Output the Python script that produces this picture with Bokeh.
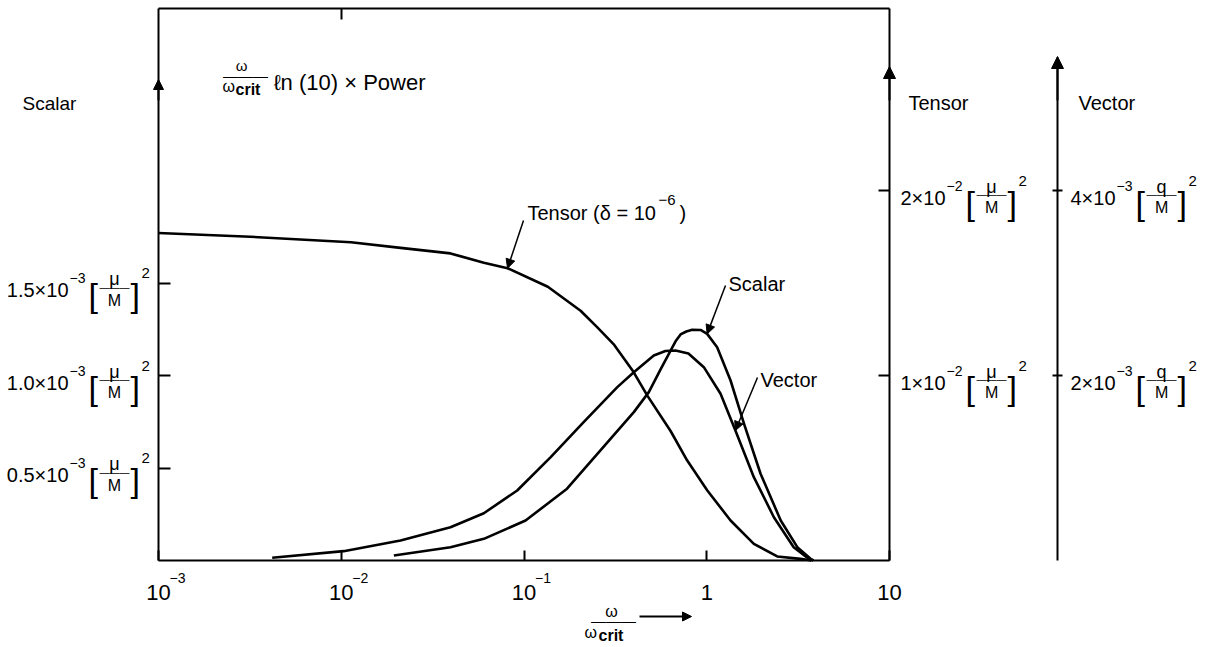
from bokeh.plotting import figure
from bokeh.models import Range1d, LinearAxis, LogAxis, FixedTicker, Label, Arrow, NormalHead
from bokeh.embed import file_html
from bokeh.resources import INLINE

# ---------------- data ----------------
# x: omega / omega_crit
# Scalar curve, in units of 1e-3 (mu/M)^2
scalar_x = [0.0194, 0.0396, 0.0603, 0.102, 0.172, 0.262, 0.399, 0.482, 0.558, 0.634,
            0.675, 0.719, 0.773, 0.832, 0.925, 1.005, 1.14, 1.35, 1.60, 1.97,
            2.54, 3.13, 3.70, 3.84]
scalar_y = [0.027, 0.072, 0.117, 0.216, 0.388, 0.595, 0.802, 0.910, 1.032, 1.135,
            1.185, 1.222, 1.238, 1.247, 1.246, 1.225, 1.153, 0.973, 0.739, 0.469,
            0.216, 0.072, 0.009, 0.0]

# Tensor curve (delta = 1e-6), in units of 1e-2 (mu/M)^2
tensor_x = [0.001, 0.00318, 0.0113, 0.0211, 0.0396, 0.0603, 0.0813, 0.135, 0.204, 0.252,
            0.309, 0.397, 0.474, 0.634, 0.782, 1.005, 1.35, 1.81, 2.43, 3.26, 3.74]
tensor_y = [1.77, 1.75, 1.72, 1.69, 1.66, 1.61, 1.58, 1.48, 1.35, 1.26,
            1.17, 1.02, 0.89, 0.70, 0.54, 0.38, 0.216, 0.09, 0.022, 0.009, 0.0]

# Vector curve, in units of 1e-3 (q/M)^2
vector_x = [0.00419, 0.0103, 0.0211, 0.0396, 0.0603, 0.0918, 0.140, 0.212, 0.324, 0.399,
            0.513, 0.594, 0.675, 0.794, 0.964, 1.19, 1.435, 1.81, 2.33, 2.99, 3.55, 3.74]
vector_y = [0.029, 0.101, 0.216, 0.360, 0.511, 0.757, 1.117, 1.495, 1.874, 2.036,
            2.216, 2.265, 2.270, 2.238, 2.090, 1.802, 1.405, 0.901, 0.468, 0.144, 0.029, 0.0]

# ticks
x_ticks = [0.001, 0.01, 0.1, 1.0, 10.0]
x_tick_base = ["10", "10", "10", "1", "10"]
x_tick_exp = ["−3", "−2", "−1", "", ""]
x_top_ticks = [0.01]

scalar_ticks = [0.5, 1.0, 1.5]
scalar_tick_text = ["0.5×10", "1.0×10", "1.5×10"]
tensor_ticks = [1.0, 2.0]
tensor_tick_text = ["1×10", "2×10"]
vector_ticks = [2.0, 4.0]
vector_tick_text = ["2×10", "4×10"]

# callout points (indices into the series)
TENSOR_CALLOUT = 6
SCALAR_CALLOUT = 15
VECTOR_CALLOUT = 16

# ---------------- layout geometry (canvas px) ----------------
W, H = 1222, 647
L, R, B, TOP = 158, 889, 560, 8    # plot box edges
V = 1057                           # vector axis position
PX_PER_UNIT = 185.0                # vertical px per scalar unit
DECADE = (R - L) / 4.0
FONT = "Liberation Sans"
MAIN = 20                          # tick label main font size


def xd(px):
    return 10 ** (-3 + (px - L) / DECADE)


def yd(py):
    return (B - py) / PX_PER_UNIT


Y_TOP = yd(TOP)

p = figure(width=W, height=H, x_axis_type="log",
           x_range=Range1d(xd(0), xd(W)), y_range=Range1d(yd(H), yd(0)),
           x_axis_location=None, y_axis_location=None,
           output_backend="svg", toolbar_location=None, title=None,
           min_border=0, min_border_left=0, min_border_right=0,
           min_border_top=0, min_border_bottom=0)
p.extra_y_ranges = {"tensor": Range1d(yd(H), yd(0)),
                    "vector": Range1d(2 * yd(H), 2 * yd(0))}
for g in p.grid:
    g.visible = False
p.outline_line_color = None
p.background_fill_color = "white"
p.border_fill_color = "white"


def style_axis(ax, ticks, tin, tout):
    ax.ticker = FixedTicker(ticks=ticks, minor_ticks=[])
    ax.major_tick_in = tin
    ax.major_tick_out = tout
    ax.minor_tick_in = 0
    ax.minor_tick_out = 0
    ax.major_label_text_color = None
    ax.major_label_text_font_size = "0px"
    ax.major_label_standoff = 0
    ax.axis_line_width = 2
    ax.major_tick_line_width = 2
    ax.axis_line_color = "black"
    ax.major_tick_line_color = "black"


left_ax = LinearAxis(fixed_location=1e-3, bounds=(0, Y_TOP))
style_axis(left_ax, scalar_ticks, 12, 0)
p.add_layout(left_ax, "left")

bottom_ax = LogAxis(fixed_location=0, bounds=(1e-3, 10))
style_axis(bottom_ax, x_ticks, 10, 0)
p.add_layout(bottom_ax, "below")

top_ax = LogAxis(fixed_location=Y_TOP, bounds=(1e-3, 10))
style_axis(top_ax, x_top_ticks, 11, 0)
p.add_layout(top_ax, "above")

tensor_ax = LinearAxis(y_range_name="tensor", fixed_location=10, bounds=(0, Y_TOP))
style_axis(tensor_ax, tensor_ticks, 11, 0)
p.add_layout(tensor_ax, "right")

vector_ax = LinearAxis(y_range_name="vector", fixed_location=xd(V), bounds=(0, 2 * yd(57)))
style_axis(vector_ax, vector_ticks, 5, 5)
p.add_layout(vector_ax, "right")

# ---------------- curves ----------------
p.line(scalar_x, scalar_y, line_width=2.6, color="black", line_join="round")
p.line(tensor_x, tensor_y, y_range_name="tensor", line_width=2.6, color="black", line_join="round")
p.line(vector_x, vector_y, y_range_name="vector", line_width=2.6, color="black", line_join="round")


# ---------------- text helpers ----------------
def put(text, x, y, dx, dy, size, align="left", yr="default", bold=False):
    p.add_layout(Label(x=x, y=y, x_offset=dx, y_offset=dy, text=text,
                       text_font=FONT, text_font_size=f"{size}px",
                       text_font_style="bold" if bold else "normal",
                       text_align=align, text_baseline="alphabetic",
                       text_color="black", y_range_name=yr))


def at(text, px, py, size, align="left", bold=False):
    put(text, 1e-3, 0, px - L, B - py, size, align=align, bold=bold)


ARIAL_W = {".": 0.278, "×": 0.584}


def w_est(s, size):
    return sum(ARIAL_W.get(c, 0.556) for c in s) * size


def tick_label(x, y, yr, E, main, exp, num):
    put(main, x, y, E, -7, MAIN, align="right", yr=yr)
    put(exp, x, y, E + 1, 5, 14, yr=yr)
    put("[", x, y, E + 20, -12, 34, yr=yr)
    put(num, x, y, E + 46, 4, 18, align="center", yr=yr)
    put("———", x, y, E + 46, -4, 10, align="center", yr=yr)
    put("M", x, y, E + 46, -17, 16, align="center", yr=yr)
    put("]", x, y, E + 62, -12, 34, yr=yr)
    put("2", x, y, E + 73, 10, 15, yr=yr)


for v, t in zip(scalar_ticks, scalar_tick_text):
    tick_label(1e-3, v, "default", -90, t, "−3", "μ")
for v, t in zip(tensor_ticks, tensor_tick_text):
    tick_label(10, v, "tensor", 11 + w_est(t, MAIN), t, "−2", "μ")
for v, t in zip(vector_ticks, vector_tick_text):
    tick_label(10, v, "vector", (V - R) + 13 + w_est(t, MAIN), t, "−3", "q")

for v, b, e in zip(x_ticks, x_tick_base, x_tick_exp):
    put(b, v, 0, 0, -32, 22, align="center")
    if e:
        put(e, v, 0, 11, -17, 14)

# axis headings
at("Scalar", 22, 103, 19)
at("Tensor", 908, 102, 20)
at("Vector", 1078, 102, 20)

# y title
at("ω", 241, 65, 15, align="center")
at("———", 245, 75, 15, align="center")
at("ω", 222, 86, 16)
at("crit", 235, 89, 16, bold=True)
at("ℓn (10) × Power", 273, 82, 22)

# x title
at("ω", 611, 611, 16, align="center")
at("———", 613, 620, 15, align="center")
at("ω", 584, 632, 16)
at("crit", 598, 635, 16, bold=True)
p.add_layout(Arrow(end=NormalHead(size=9, fill_color="black", line_color="black"),
                   x_start=xd(639), y_start=yd(616), x_end=xd(691), y_end=yd(616),
                   line_width=2, line_color="black"))

# curve names
at("Tensor (δ = 10", 527, 212, 20)
at("−6", 658, 199, 15)
at(")", 679, 212, 20)
at("Scalar", 728, 283, 20)
at("Vector", 760, 379, 20)

# callout arrows
p.add_layout(Arrow(end=NormalHead(size=9, fill_color="black", line_color="black"),
                   x_start=xd(523), y_start=yd(220),
                   x_end=tensor_x[TENSOR_CALLOUT], y_end=tensor_y[TENSOR_CALLOUT],
                   y_range_name="tensor", line_width=1.5, line_color="black"))
p.add_layout(Arrow(end=NormalHead(size=9, fill_color="black", line_color="black"),
                   x_start=xd(725), y_start=yd(285),
                   x_end=scalar_x[SCALAR_CALLOUT], y_end=scalar_y[SCALAR_CALLOUT],
                   line_width=1.5, line_color="black"))
p.add_layout(Arrow(end=NormalHead(size=9, fill_color="black", line_color="black"),
                   x_start=xd(757), y_start=2 * yd(377),
                   x_end=vector_x[VECTOR_CALLOUT], y_end=vector_y[VECTOR_CALLOUT],
                   y_range_name="vector", line_width=1.5, line_color="black"))

# axis arrowheads
for ax_x, tip, base, size in [(1e-3, 79, 100, 10), (10, 66, 100, 12), (xd(V), 56, 100, 12)]:
    p.add_layout(Arrow(end=NormalHead(size=size, fill_color="black", line_color="black"),
                       x_start=ax_x, y_start=yd(base), x_end=ax_x, y_end=yd(tip),
                       line_width=2, line_color="black"))

open("out.html", "w").write(file_html(p, INLINE))
